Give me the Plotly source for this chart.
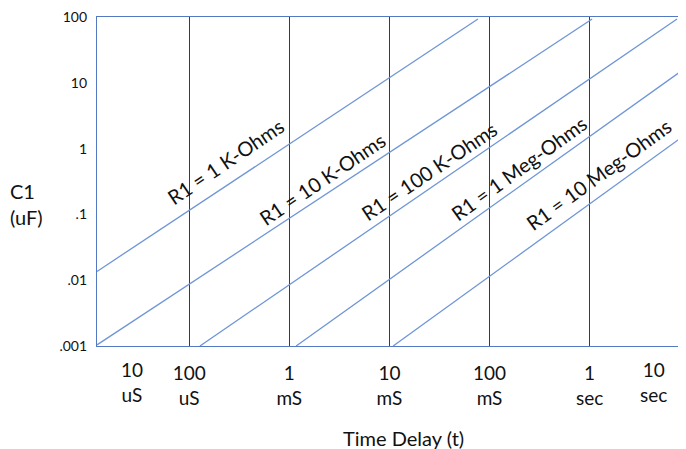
import math
import plotly.graph_objects as go

# ---- data (time in seconds, capacitance in uF) ----
resistor_labels = ["R1 = 1 K-Ohms", "R1 = 10 K-Ohms", "R1 = 100 K-Ohms",
                   "R1 = 1 Meg-Ohms", "R1 = 10 Meg-Ohms"]
t_start = [1.2e-5, 1.2e-5, 1.28e-4, 1.17e-3, 1.09e-2]
c_start = [0.0136, 0.00104, 0.001, 0.001, 0.001]
t_end = [0.0767, 1.06, 7.47, 9.18, 9.18]
c_end = [93, 93, 93, 17.0, 1.65]

label_t = [2.33e-4, 2.12e-3, 2.48e-2, 0.197, 1.24]
label_c = [0.646, 0.345, 0.456, 0.506, 0.410]
label_angle = [-34, -34, -34, -36, -36]

x_tickvals = [1e-4, 1e-3, 1e-2, 1e-1, 1]
x_ticktext = ["100<br>uS", "1<br>mS", "10<br>mS", "100<br>mS", "1<br>sec"]
y_tickvals = [0.001, 0.01, 0.1, 1, 10, 100]
y_ticktext = [".001", ".01", ".1", "1", "10", "100"]

FONT = "Lato, Open Sans, sans-serif"
TXT = "#111111"
LINE_BLUE = "#6F96D6"
AXIS_BLUE = "#5479C2"

# page body has an 8px margin; plot area spans 97..686 x 15..346 in the window
PW, PH = 589, 331

fig = go.Figure()
for i in range(len(resistor_labels)):
    fig.add_trace(go.Scatter(
        x=[t_start[i], t_end[i]], y=[c_start[i], c_end[i]],
        mode="lines", line=dict(color=LINE_BLUE, width=1.3),
        hoverinfo="skip", showlegend=False))

annotations = []
for i, lab in enumerate(resistor_labels):
    annotations.append(dict(
        x=math.log10(label_t[i]), y=math.log10(label_c[i]),
        xref="x", yref="y", text=lab, showarrow=False,
        textangle=label_angle[i], font=dict(family=FONT, size=20, color=TXT)))

# end tick labels (outside the drawn decades)
annotations.append(dict(x=(119 - 97) / PW, y=0, xref="paper", yref="paper",
                        text="10<br>uS", showarrow=False, yanchor="top", yshift=-10,
                        font=dict(family=FONT, size=19, color=TXT)))
annotations.append(dict(x=(669 - 97) / PW, y=0, xref="paper", yref="paper",
                        text="10<br>sec", showarrow=False, yanchor="top", yshift=-10,
                        font=dict(family=FONT, size=19, color=TXT)))
# axis titles
annotations.append(dict(x=(403 - 97) / PW, y=0, xref="paper", yref="paper",
                        text="Time Delay (t)", showarrow=False, yanchor="middle",
                        yshift=-92, font=dict(family=FONT, size=20, color=TXT)))
annotations.append(dict(x=(8 - 97) / PW, y=(346 - 203) / PH, xref="paper", yref="paper",
                        xanchor="left", yanchor="middle", align="left",
                        text="C1<br>(uF)", showarrow=False,
                        font=dict(family=FONT, size=20, color=TXT)))

fig.update_layout(
    width=678, height=441,
    margin=dict(l=89, r=0, t=7, b=103),
    paper_bgcolor="white", plot_bgcolor="white",
    annotations=annotations,
    xaxis=dict(type="log", range=[-4.921, 0.963],
               tickvals=x_tickvals, ticktext=x_ticktext,
               showgrid=True, gridcolor="#3a3a3a", gridwidth=1.2,
               showline=True, mirror=True, linecolor=AXIS_BLUE, linewidth=1.3,
               ticks="", ticklabelstandoff=10,
               tickfont=dict(family=FONT, size=19, color=TXT)),
    yaxis=dict(type="log", range=[-3, 2],
               tickvals=y_tickvals, ticktext=y_ticktext,
               showgrid=False, zeroline=False,
               showline=True, linecolor=AXIS_BLUE, linewidth=1.3,
               ticks="", ticklabelstandoff=6, ticklabeloverflow="allow",
               tickfont=dict(family=FONT, size=14, color=TXT)),
)

fig.write_html("out.html")
